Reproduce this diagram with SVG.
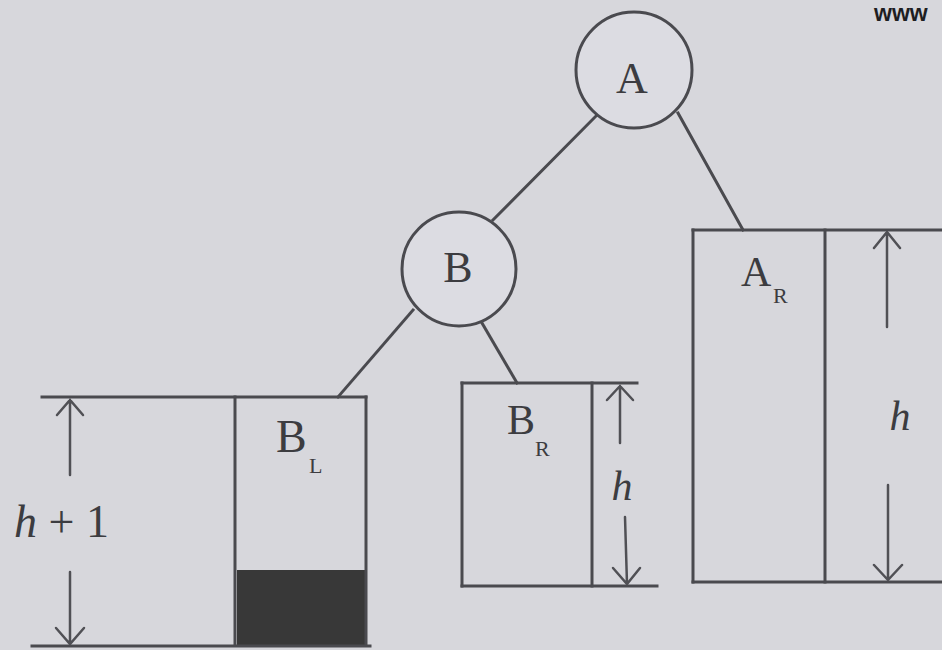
<svg xmlns="http://www.w3.org/2000/svg" width="942" height="650" viewBox="0 0 942 650">
<style>
.ln{stroke:#4a4a4f;stroke-width:3;fill:none;stroke-linecap:square}
.ar{stroke:#505055;stroke-width:2.5;fill:none;stroke-linecap:round}
.nd{stroke:#4a4a4f;stroke-width:3;fill:#dcdce2}
.lb{font-family:"Liberation Serif","Times New Roman",serif;fill:#3c3c40}
.it{font-style:italic}
</style>
<rect x="0" y="0" width="942" height="650" fill="#d7d7dc"/>
<text x="874" y="21" font-family="Liberation Sans,Arial,sans-serif" font-weight="bold" font-size="23" fill="#1e1e22">www</text>
<g id="connectors">
<line class="ln" x1="597" y1="115" x2="493" y2="220"/>
<line class="ln" x1="678" y1="113" x2="743" y2="230"/>
<line class="ln" x1="413" y1="310" x2="338" y2="397"/>
<line class="ln" x1="482" y1="323" x2="517" y2="383"/>
</g>
<g id="node-A">
<circle class="nd" cx="634" cy="70" r="58"/>
<text class="lb" x="632" y="93" font-size="44" text-anchor="middle">A</text>
</g>
<g id="node-B">
<circle class="nd" cx="459" cy="269" r="57"/>
<text class="lb" x="458" y="282" font-size="44" text-anchor="middle">B</text>
</g>
<g id="subtree-BL">
<rect x="237" y="570" width="129" height="75" fill="#383838"/>
<line class="ln" x1="42" y1="397" x2="366" y2="397"/>
<line class="ln" x1="366" y1="397" x2="366" y2="645"/>
<line class="ln" x1="235" y1="397" x2="235" y2="645"/>
<line class="ln" x1="32" y1="646" x2="370" y2="646"/>
<text class="lb" x="276" y="452" font-size="46">B</text>
<text class="lb" x="309" y="473" font-size="22">L</text>
<path class="ar" d="M70 400 V475 M57 415 L70 400 L83 415"/>
<path class="ar" d="M70 572 V644 M56 628 L70 644 L84 628"/>
<text class="lb" x="14" y="537" font-size="46"><tspan class="it">h</tspan> + 1</text>
</g>
<g id="subtree-BR">
<line class="ln" x1="462" y1="383" x2="637" y2="383"/>
<line class="ln" x1="462" y1="383" x2="462" y2="586"/>
<line class="ln" x1="592" y1="383" x2="592" y2="586"/>
<line class="ln" x1="462" y1="586" x2="657" y2="586"/>
<text class="lb" x="507" y="434" font-size="42">B</text>
<text class="lb" x="535" y="456" font-size="22">R</text>
<path class="ar" d="M620 386 V443 M607 400 L620 386 L633 400"/>
<path class="ar" d="M625 517 L627 584 M613 568 L627 584 L640 568"/>
<text class="lb it" x="622" y="500" font-size="42" text-anchor="middle">h</text>
</g>
<g id="subtree-AR">
<line class="ln" x1="693" y1="230" x2="942" y2="230"/>
<line class="ln" x1="693" y1="230" x2="693" y2="582"/>
<line class="ln" x1="825" y1="230" x2="825" y2="582"/>
<line class="ln" x1="693" y1="582" x2="942" y2="582"/>
<text class="lb" x="741" y="286" font-size="42">A</text>
<text class="lb" x="773" y="303" font-size="22">R</text>
<path class="ar" d="M887 232 V327 M874 248 L887 232 L900 248"/>
<path class="ar" d="M888 485 V580 M874 565 L888 580 L902 565"/>
<text class="lb it" x="900" y="430" font-size="42" text-anchor="middle">h</text>
</g>
</svg>
